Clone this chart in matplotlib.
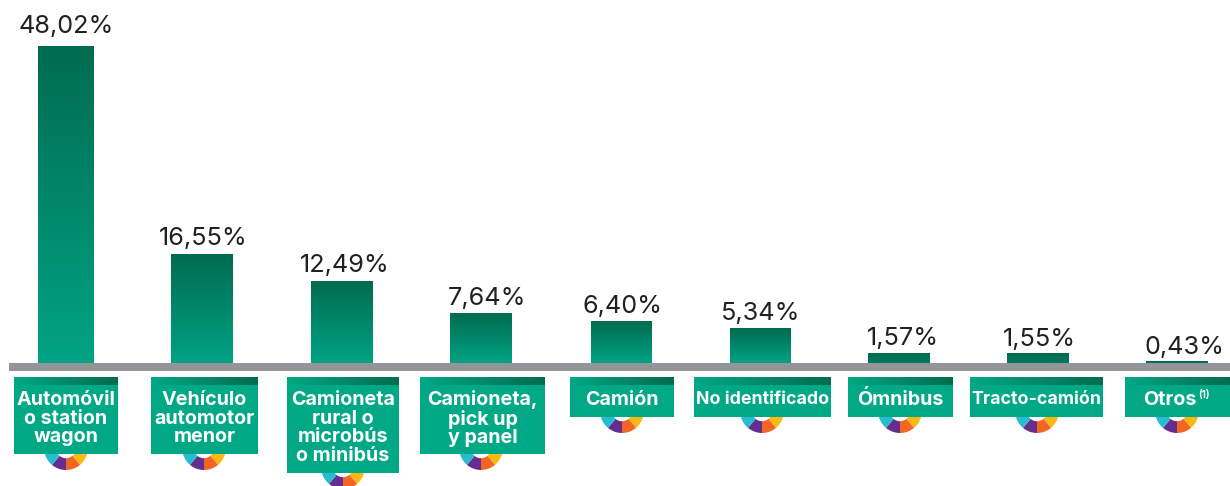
import numpy as np
import matplotlib
matplotlib.use("Agg")
import matplotlib.pyplot as plt
from matplotlib.colors import LinearSegmentedColormap, to_rgb
from matplotlib.patches import Rectangle, Wedge

categories = ["Automóvil\no station\nwagon", "Vehículo\nautomotor\nmenor",
              "Camioneta\nrural o\nmicrobús\no minibús", "Camioneta,\npick up\ny panel",
              "Camión", "No identificado", "Ómnibus", "Tracto-camión", "Otros"]
values = [48.02, 16.55, 12.49, 7.64, 6.40, 5.34, 1.57, 1.55, 0.43]
value_labels = ["48,02%", "16,55%", "12,49%", "7,64%", "6,40%", "5,34%", "1,57%", "1,55%", "0,43%"]

# layout (pixels)
W, H = 1230, 486
BASE_PY, PX_PER_UNIT = 364, 6.62
bar_x = [(38, 94), (171, 233), (311, 373), (450, 512), (591, 652), (730, 791), (868, 930), (1007, 1069), (1146, 1208)]
label_cx = [66, 203, 345, 487, 623, 761, 903, 1039, 1185]
label_off = [13, 9, 9, 8, 9, 9, 9, 8, 7]
box_x = [(14, 118), (151, 258), (287, 399), (420, 545), (570, 674), (694, 831), (848, 953), (970, 1103), (1125, 1230)]
box_bottom = [454, 454, 473, 454, 417, 417, 417, 417, 417]
ring_cx = [66, 204, 343, 481, 622, 762, 900, 1037, 1177]
DARK, LIGHT, BOX = "#006B4F", "#00A485", "#00A886"
ring_segments = [(-20, 50, "#FDB913"), (50, 90, "#F26522"), (90, 130, "#662D91"), (130, 200, "#27BDD0")]

fig = plt.figure(figsize=(W / 100, H / 100), dpi=100, facecolor="white")
ax = fig.add_axes([0, 0, 1, 1])
ax.axis("off")

for v, (x0, x1), lab, cx, off in zip(values, bar_x, value_labels, label_cx, label_off):
    t = min(1.0, v * PX_PER_UNIT / 35)
    end = tuple(np.array(to_rgb(DARK)) + t * (np.array(to_rgb(LIGHT)) - np.array(to_rgb(DARK))))
    cmap = LinearSegmentedColormap.from_list("g", [DARK, end])
    ax.imshow(np.linspace(0, 1, 256).reshape(-1, 1), extent=(x0, x1, 0, v), cmap=cmap,
              aspect="auto", origin="upper", zorder=2)
    ax.annotate(lab, (cx, v), xytext=(0, off * 0.72), textcoords="offset points", ha="center",
                va="baseline", fontsize=18.2, color="#231F20", family="Inter", fontweight="normal", zorder=5)
ax.set_xlim(0, W)
ax.set_ylim((BASE_PY - H) / PX_PER_UNIT, BASE_PY / PX_PER_UNIT)

# decoration layer in pixel coordinates
dx = fig.add_axes([0, 0, 1, 1], facecolor="none")
dx.axis("off")
dx.add_patch(Rectangle((9, 363), W - 9, 8, fc="#939598", ec="none", zorder=3))
strip = LinearSegmentedColormap.from_list("s", [BOX, DARK])
for cat, (x0, x1), bot, rc in zip(categories, box_x, box_bottom, ring_cx):
    cy = bot - 5.8
    for a0, a1, col in ring_segments:
        dx.add_patch(Wedge((rc, cy), 21.8, a0, a1, width=11.8, fc=col, ec="none", zorder=2))
    dx.add_patch(Rectangle((x0, 384), x1 - x0, bot - 384, fc=BOX, ec="none", zorder=3))
    dx.imshow(np.linspace(0, 1, 256).reshape(1, -1), extent=(x0, x1, 385, 378), cmap=strip,
              aspect="auto", zorder=4)
    tcy = (385 + bot) / 2 - (1.0 if bot > 417 else 1.5)
    tx = (x0 + x1) / 2 + (-7.5 if cat == "Otros" else 0)
    fs = 12.8 if cat in ("No identificado", "Tracto-camión") else 14.2
    dx.text(tx, tcy, cat, ha="center", va="center", color="white", fontsize=fs, family="Inter",
            fontweight="bold", linespacing=1.05, zorder=5)
    if cat == "Otros":
        dx.text(1198, tcy - 5, "(1)", ha="left", va="center", color="white", fontsize=7,
                family="Inter", fontweight="bold", zorder=5)
dx.set_xlim(0, W)
dx.set_ylim(H, 0)

fig.savefig("out.png", dpi=100, facecolor="white")
